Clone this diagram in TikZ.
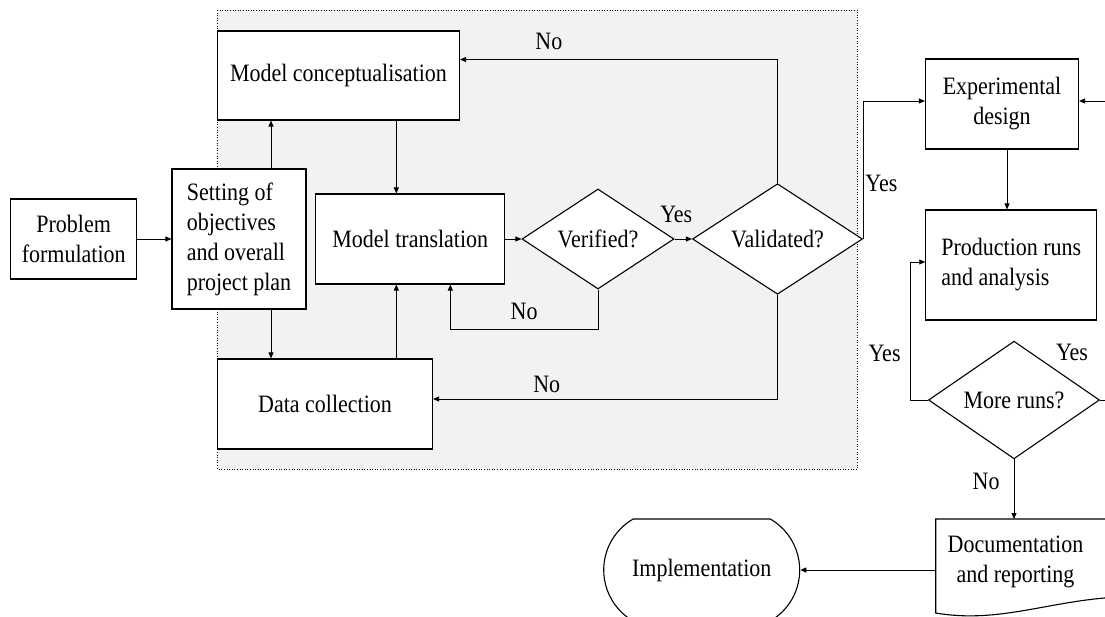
\documentclass[tikz,border=0pt]{standalone}
\usepackage{fontspec}
\setmainfont[FakeStretch=0.88]{Liberation Serif}
\usetikzlibrary{shapes.geometric,shapes.misc,arrows.meta}

\begin{document}
\begin{tikzpicture}[x=1pt,y=-1pt,
  box/.style={draw,line width=1.1pt,fill=white,inner sep=0pt,align=center,font=\fontsize{25}{30}\selectfont},
  decision/.style={box,diamond},
  conn/.style={line width=0.8pt,-{Triangle[length=6pt,width=5pt]}},
  lbl/.style={font=\fontsize{25}{30}\selectfont,inner sep=2pt,align=center}]
  \useasboundingbox (0,0) rectangle (1105,617);
  \clip (0,0) rectangle (1105,617);

  %model building area
  \draw[dotted,line width=0.6pt,fill=black!5] (217.5,10) rectangle (857,469);

  %boxes
  \node[box,minimum width=126,minimum height=80] (prob) at (73.7,239) {Problem\\formulation};
  \node[box,align=left,minimum width=134,minimum height=140] (setting) at (239,239) {Setting of\\objectives\\and overall\\project plan};
  \node[box,minimum width=242,minimum height=89] (concept) at (338.5,75.5) {Model conceptualisation};
  \node[box,minimum width=189,minimum height=90] (transl) at (410.3,239) {Model translation};
  \node[box,minimum width=215,minimum height=90] (datacol) at (325,404) {Data collection};
  \node[decision,minimum width=152,minimum height=100] (verif) at (598,239) {Verified?};
  \node[decision,minimum width=170,minimum height=100] (valid) at (777.5,239) {Validated?};

  %experiments
  \node[box,minimum width=153,minimum height=90] (expdes) at (1002,104) {Experimental\\design};
  \node[box,align=left,minimum width=171,minimum height=110] (prodrun) at (1011.3,265) {Production runs\\and analysis};
  \node[decision,minimum width=171,minimum height=98] (moreruns) at (1014,400) {More runs?};

  %documentation
  \draw[line width=1.1pt,fill=white] (935.7,519) -- (1120,519) -- (1120,597)
    .. controls (1050,600) and (1000,624) .. (935.7,613) -- cycle;
  \node[lbl] (docrep) at (1015.5,562) {Documentation\\and reporting};
  \coordinate (docin) at (1015.5,519);
  \coordinate (docout) at (935.7,570);
  \node[box,rounded rectangle,rounded rectangle arc length=120,minimum width=196,minimum height=102] (implem) at (701.7,570) {Implementation};

  %connectors
  \draw[conn] (prob) -- (setting);
  \draw[conn] ([xshift=32pt]setting.north) -- ([xshift=32pt]setting.north |- concept.south);
  \draw[conn] ([xshift=32pt]setting.south) -- ([xshift=32pt]setting.south |- datacol.north);
  \draw[conn] ([xshift=-14pt]transl.north |- concept.south) -- ([xshift=-14pt]transl.north);
  \draw[conn] ([xshift=-14pt]transl.south |- datacol.north) -- ([xshift=-14pt]transl.south);
  \draw[conn] (transl) -- (verif);
  \draw[conn] (verif) -- node[lbl,above=14pt,xshift=-7pt]{Yes} (valid);
  \draw[conn] (verif.south) |- node[lbl,above=7pt,pos=0.75]{No} ([xshift=40pt,yshift=-45pt]transl.south) -- ([xshift=40pt]transl.south);
  \draw[conn] (valid.north) |- node[lbl,above=7pt,pos=0.86]{No} ([yshift=16pt]concept.east);
  \draw[conn] (valid.south) |- node[lbl,above=4pt,pos=0.835]{No} ([yshift=5pt]datacol.east);
  \draw[conn] (valid.east) |- node[lbl,right,pos=0.2]{Yes} ([yshift=3pt]expdes.west);
  \draw[conn] ([xshift=5pt]expdes.south) -- ([xshift=5pt]expdes.south |- prodrun.north);
  \draw[conn] (moreruns.west) -- ++(-18,0) |- node[lbl,left=7pt,pos=0.17]{Yes} ([yshift=3pt]prodrun.west);
  \draw[conn] (moreruns.east) -- ++(25,0) |- ([yshift=3pt]expdes.east);
  \node[lbl] (yesmore) at (1072,352) {Yes};
  \draw[conn] (moreruns.south) -- node[lbl,left=12pt,pos=0.37]{No} (moreruns.south |- docin);
  \draw[conn] (docout) -- (implem.east);

\end{tikzpicture}
\end{document}
